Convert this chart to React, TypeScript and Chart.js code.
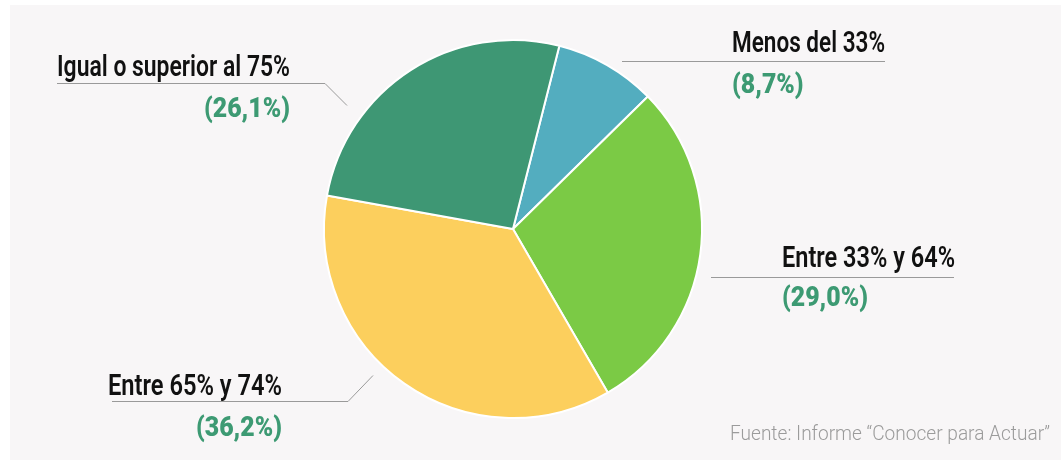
import React, { useEffect, useRef } from "react";
import { Chart, registerables } from "chart.js";

Chart.register(...registerables);

const categories = ["Menos del 33%", "Entre 33% y 64%", "Entre 65% y 74%", "Igual o superior al 75%"];
const values = [8.7, 29.0, 36.2, 26.1];
const valueLabels = ["(8,7%)", "(29,0%)", "(36,2%)", "(26,1%)"];
const colors = ["#53adbf", "#7bca45", "#fccf5d", "#3e9774"];
const sourceText = "Fuente: Informe \u201cConocer para Actuar\u201d";

// label layout (positions / fitted widths only)
const labelLayout = [
  { align: "left", x: 732, labelY: 52, pctY: 93, labelW: 153, line: [[622, 61], [885, 61]] },
  { align: "left", x: 782, labelY: 267, pctY: 306, labelW: 173, line: [[711, 277], [954, 277]] },
  { align: "right", x: 282, labelY: 395, pctY: 436, labelW: 174, line: [[112, 401], [348, 401], [373, 375]] },
  { align: "right", x: 290, labelY: 76, pctY: 117, labelW: 233, line: [[57, 83], [325, 83], [347, 105]] },
];

const FONT = "Roboto, 'Open Sans', sans-serif";

function drawScaled(ctx: CanvasRenderingContext2D, text: string, x: number, y: number, sx: number, align: string) {
  const w = ctx.measureText(text).width * sx;
  const left = align === "right" ? x - w : x;
  ctx.save();
  ctx.translate(left, y);
  ctx.scale(sx, 1);
  ctx.textAlign = "left";
  ctx.fillText(text, 0, 0);
  ctx.restore();
}

const labelsPlugin = {
  id: "customLabels",
  afterDraw(chart: any) {
    const ctx: CanvasRenderingContext2D = chart.ctx;
    ctx.save();
    ctx.textBaseline = "alphabetic";
    ctx.strokeStyle = "#9a9a9a";
    ctx.lineWidth = 1;
    labelLayout.forEach((l) => {
      ctx.beginPath();
      l.line.forEach((p, i) => (i === 0 ? ctx.moveTo(p[0], p[1] + 0.5) : ctx.lineTo(p[0], p[1] + 0.5)));
      ctx.stroke();
    });
    ctx.fillStyle = "#111111";
    ctx.font = `600 29.5px ${FONT}`;
    categories.forEach((c, i) => {
      const l = labelLayout[i];
      const sx = l.labelW / ctx.measureText(c).width;
      drawScaled(ctx, c, l.x, l.labelY, sx, l.align);
    });
    ctx.fillStyle = "#3d9a73";
    ctx.font = `900 27px ${FONT}`;
    const sxP = 86 / ctx.measureText(valueLabels[1]).width;
    valueLabels.forEach((v, i) => {
      const l = labelLayout[i];
      drawScaled(ctx, v, l.x, l.pctY, sxP, l.align);
    });
    ctx.fillStyle = "#9b9b9b";
    ctx.font = `300 21px ${FONT}`;
    const sxF = 320 / ctx.measureText(sourceText).width;
    drawScaled(ctx, sourceText, 1050, 440, sxF, "right");
    ctx.restore();
  },
};

export default function App() {
  const ref = useRef<HTMLCanvasElement>(null);
  useEffect(() => {
    if (!ref.current) return;
    const chart = new Chart(ref.current, {
      type: "pie",
      data: {
        labels: categories,
        datasets: [
          {
            data: values,
            backgroundColor: colors,
            borderColor: "#ffffff",
            borderWidth: 2,
          },
        ],
      },
      options: {
        responsive: false,
        animation: false,
        rotation: 14.2,
        layout: { padding: { left: 323, right: 358, top: 39, bottom: 41 } },
        plugins: {
          legend: { display: false },
          tooltip: { enabled: false },
        },
      },
      plugins: [labelsPlugin],
    });
    return () => chart.destroy();
  }, []);
  return (
    <div style={{ position: "fixed", left: 0, top: 0, width: 1061, height: 460, background: "#ffffff" }}>
      <div style={{ position: "absolute", left: 10, top: 5, width: 1051, height: 455, background: "#f8f6f7" }} />
      <canvas ref={ref} width={1061} height={460} style={{ position: "absolute", left: 0, top: 0, width: 1061, height: 460 }} />
    </div>
  );
}
